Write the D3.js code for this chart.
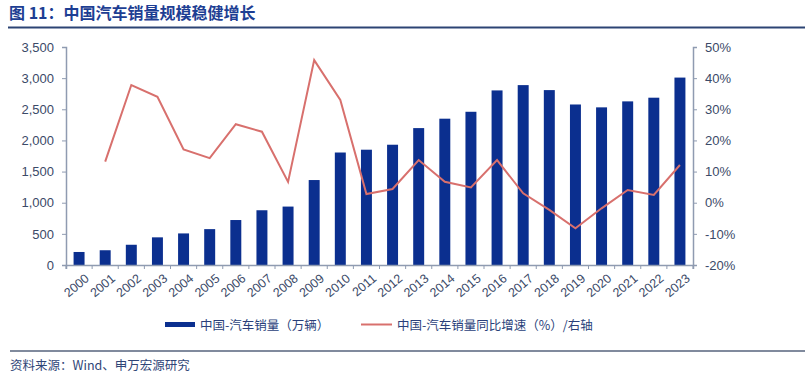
<!DOCTYPE html>
<html>
<head>
<meta charset="utf-8">
<script src="https://cdn.jsdelivr.net/npm/d3@7"></script>
<style>
  body { margin: 0; background: #fff; }
  text { font-family: "Liberation Sans", Arial, sans-serif; }
  .cjk { font-family: "Noto Sans CJK SC", sans-serif; }
</style>
</head>
<body>
<div class="chart"></div>
<script>
var years = ["2000","2001","2002","2003","2004","2005","2006","2007","2008","2009","2010","2011",
             "2012","2013","2014","2015","2016","2017","2018","2019","2020","2021","2022","2023"];
var sales = [209,237,325,444,507,576,722,879,938,1364,1806,1851,
             1931,2198,2349,2460,2803,2888,2808,2577,2531,2627,2686,3009];
var growth = [null,13.2,37.8,34.0,17.1,14.3,25.2,22.8,6.7,45.8,33.0,2.8,
              4.4,13.7,6.7,4.9,13.7,3.0,-2.3,-8.2,-1.8,4.1,2.5,12.1];
var leftTicks = [0,500,1000,1500,2000,2500,3000,3500];
var rightTicks = [-20,-10,0,10,20,30,40,50];

var w = 805, h = 387;
var pL = 66, pR = 693, pT = 47, pB = 265;
var barColor = "#0b2f8f", lineColor = "#d8706d", axisColor = "#8f9bb1", textColor = "#3b4a68";

var svg = d3.select(".chart").append("svg").attr("width", w).attr("height", h);

// title
svg.append("text").attr("class","cjk").attr("x", 9).attr("y", 19)
   .attr("font-size", 16).attr("font-weight", "bold").attr("fill", "#1d3e93")
   .text("图 11：中国汽车销量规模稳健增长");
svg.append("line").attr("x1", 8).attr("x2", w).attr("y1", 27.5).attr("y2", 27.5)
   .attr("stroke", "#2c4474").attr("stroke-width", 2);

var x = d3.scaleBand().domain(years).range([pL, pR]).paddingInner(0.58).paddingOuter(0.29);
var y = d3.scaleLinear().domain([0, 3500]).range([pB, pT]);
var y2 = d3.scaleLinear().domain([-20, 50]).range([pB, pT]);

// bars
svg.append("g").selectAll("rect").data(sales).enter().append("rect")
   .attr("x", function(d,i){ return x(years[i]); })
   .attr("y", function(d){ return y(d); })
   .attr("width", x.bandwidth())
   .attr("height", function(d){ return pB - y(d); })
   .attr("fill", barColor);

// left axis
var gl = svg.append("g").attr("transform", "translate(" + pL + ",0)")
   .call(d3.axisLeft(y).tickValues(leftTicks).tickSize(4).tickPadding(8).tickFormat(d3.format(",")));
// right axis
var gr = svg.append("g").attr("transform", "translate(" + pR + ",0)")
   .call(d3.axisRight(y2).tickValues(rightTicks).tickSize(4).tickPadding(8).tickFormat(function(d){ return d + "%"; }));
// x axis
var xb = d3.scaleBand().domain(years).range([pL, pR]);
var gx = svg.append("g").attr("transform", "translate(0," + pB + ")")
   .call(d3.axisBottom(xb).tickSize(4).tickFormat(""));
gx.selectAll(".tick").attr("transform", function(d){ return "translate(" + (xb(d)) + ",0)"; });
gx.append("g").attr("class","tick").attr("transform","translate(" + pR + ",0)")
   .append("line").attr("y2", 4);

[gl, gr, gx].forEach(function(g){
  g.select(".domain").attr("stroke", axisColor).attr("stroke-width", 1.5);
  g.selectAll(".tick line").attr("stroke", axisColor);
  g.selectAll(".tick text").attr("fill", textColor).attr("font-size", 13)
   .attr("font-family", "Liberation Sans, Arial, sans-serif");
});

// x labels
svg.append("g").selectAll("text").data(years).enter().append("text")
   .attr("transform", function(d){ return "translate(" + (x(d) + x.bandwidth()/2 + 6) + "," + (pB + 9) + ") rotate(-40)"; })
   .attr("text-anchor", "end").attr("dy", "0.6em")
   .attr("font-size", 12.5).attr("fill", textColor).text(function(d){ return d; });

// growth line
var line = d3.line()
   .defined(function(d){ return d != null; })
   .x(function(d,i){ return x(years[i]) + x.bandwidth()/2; })
   .y(function(d){ return y2(d); });
svg.append("path").datum(growth).attr("d", line)
   .attr("fill", "none").attr("stroke", lineColor).attr("stroke-width", 2);

// legend
var lg = svg.append("g");
lg.append("rect").attr("x", 165).attr("y", 322).attr("width", 30).attr("height", 5).attr("fill", barColor);
lg.append("text").attr("class","cjk").attr("x", 200).attr("y", 329.5).attr("font-size", 12.5).attr("fill", "#2a3f7a")
  .text("中国-汽车销量（万辆）");
lg.append("line").attr("x1", 361).attr("x2", 392).attr("y1", 324.5).attr("y2", 324.5)
  .attr("stroke", lineColor).attr("stroke-width", 2);
lg.append("text").attr("class","cjk").attr("x", 397).attr("y", 329.5).attr("font-size", 12.5).attr("fill", "#2a3f7a")
  .text("中国-汽车销量同比增速（%）/右轴");

// source
svg.append("line").attr("x1", 10).attr("x2", w).attr("y1", 351).attr("y2", 351)
   .attr("stroke", "#56637c").attr("stroke-width", 1.5);
svg.append("text").attr("class","cjk").attr("x", 10).attr("y", 370).attr("font-size", 12.5).attr("fill", "#2f4577")
   .text("资料来源：Wind、申万宏源研究");
</script>
</body>
</html>
